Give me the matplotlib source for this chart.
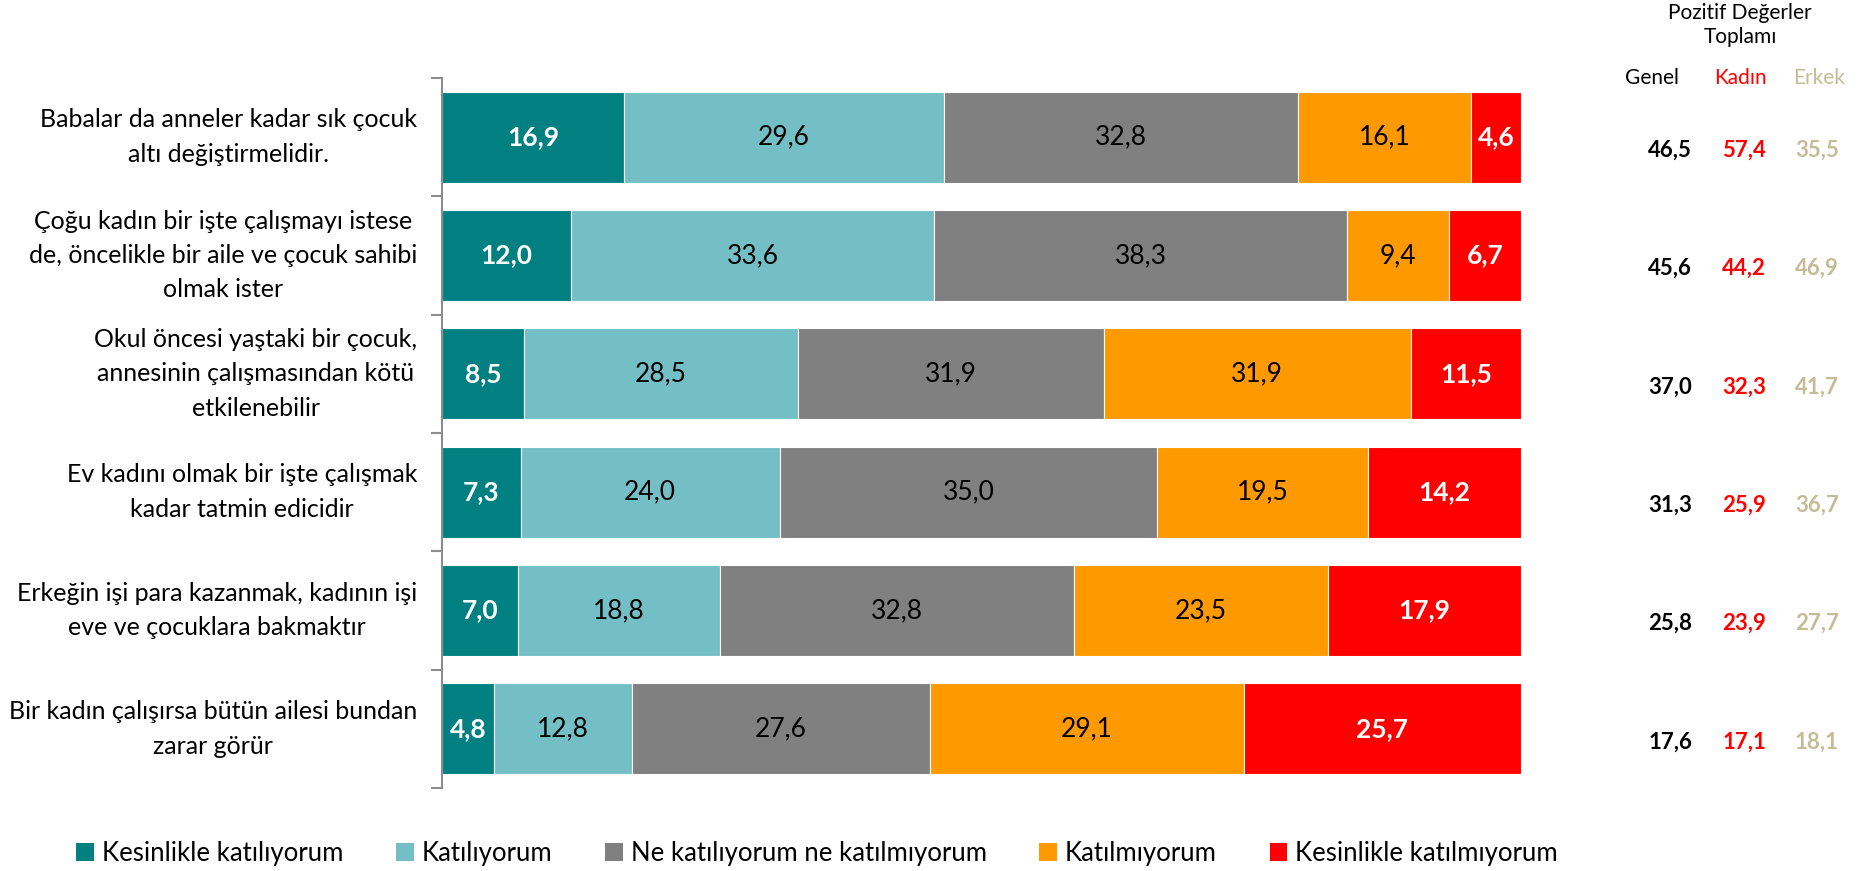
import matplotlib
matplotlib.use('Agg')
import matplotlib.pyplot as plt
import matplotlib.transforms as mtransforms
from matplotlib.patches import Patch

# data
statements = [
    'Babalar da anneler kadar sık çocuk\naltı değiştirmelidir.',
    'Çoğu kadın bir işte çalışmayı istese\nde, öncelikle bir aile ve çocuk sahibi\nolmak ister',
    'Okul öncesi yaştaki bir çocuk,\nannesinin çalışmasından kötü\netkilenebilir',
    'Ev kadını olmak bir işte çalışmak\nkadar tatmin edicidir',
    'Erkeğin işi para kazanmak, kadının işi\neve ve çocuklara bakmaktır',
    'Bir kadın çalışırsa bütün ailesi bundan\nzarar görür',
]
answers = ['Kesinlikle katılıyorum', 'Katılıyorum', 'Ne katılıyorum ne katılmıyorum',
           'Katılmıyorum', 'Kesinlikle katılmıyorum']
kesinlikle_katiliyorum = [16.9, 12.0, 8.5, 7.3, 7.0, 4.8]
katiliyorum = [29.6, 33.6, 28.5, 24.0, 18.8, 12.8]
ne_ne = [32.8, 38.3, 31.9, 35.0, 32.8, 27.6]
katilmiyorum = [16.1, 9.4, 31.9, 19.5, 23.5, 29.1]
kesinlikle_katilmiyorum = [4.6, 6.7, 11.5, 14.2, 17.9, 25.7]

pozitif_genel = [46.5, 45.6, 37.0, 31.3, 25.8, 17.6]
pozitif_kadin = [57.4, 44.2, 32.3, 25.9, 23.9, 17.1]
pozitif_erkek = [35.5, 46.9, 41.7, 36.7, 27.7, 18.1]

colors = ['#008080', '#74BFC6', '#808080', '#FF9900', '#FF0000']
label_colors = ['white', 'black', 'black', 'black', 'white']
label_weights = ['bold', 'normal', 'normal', 'normal', 'bold']

plt.rcParams['font.family'] = ['Lato', 'DejaVu Sans']

fig = plt.figure(figsize=(18.75, 8.71), dpi=100)
ax = fig.add_axes([442 / 1875, 1 - 788 / 871, 1079 / 1875, 710 / 871])

series = [kesinlikle_katiliyorum, katiliyorum, ne_ne, katilmiyorum, kesinlikle_katilmiyorum]
n = len(statements)
totals = [sum(s[i] for s in series) for i in range(n)]
ys = list(range(n))

# 100% stacked bars
left = [0.0] * n
for k, s in enumerate(series):
    widths = [s[i] / totals[i] * 100 for i in range(n)]
    ax.barh(ys, widths, left=left, height=0.77, color=colors[k],
            edgecolor='white', linewidth=0.8)
    for i in range(n):
        ax.text(left[i] + widths[i] / 2, ys[i], f'{s[i]:.1f}'.replace('.', ','),
                ha='center', va='center', fontsize=19, color=label_colors[k],
                fontweight=label_weights[k])
    left = [left[i] + widths[i] for i in range(n)]

ax.set_xlim(0, 100)
ax.set_ylim(n - 0.5, -0.5)
ax.xaxis.set_visible(False)
for sp in ['top', 'right', 'bottom']:
    ax.spines[sp].set_visible(False)
ax.spines['left'].set_color('#8C8C8C')
ax.spines['left'].set_linewidth(1.5)
ax.set_yticks([i - 0.5 for i in range(n + 1)])
ax.set_yticklabels([])
ax.tick_params(axis='y', length=8, width=1.5, color='#8C8C8C')

lab_tr = mtransforms.blended_transform_factory(ax.transAxes, ax.transData)
for i, txt in enumerate(statements):
    ax.text(-0.023, ys[i], txt, transform=lab_tr, ha='right', va='center',
            multialignment='center', fontsize=18, linespacing=1.6)

# positive totals on the right
fig.text(1740 / 1875, 1 - 25 / 871, 'Pozitif Değerler\nToplamı', ha='center', va='center',
         fontsize=15, linespacing=1.2)
fig.text(1652 / 1875, 1 - 78 / 871, 'Genel', ha='center', va='center', fontsize=15, color='black')
fig.text(1740 / 1875, 1 - 78 / 871, 'Kadın', ha='center', va='center', fontsize=15, color='#FF0000')
fig.text(1819 / 1875, 1 - 78 / 871, 'Erkek', ha='center', va='center', fontsize=15, color='#C4BC96')

tr = mtransforms.blended_transform_factory(fig.transFigure, ax.transData)
for i in range(n):
    y = ys[i] + 0.11
    ax.text(1670 / 1875, y, f'{pozitif_genel[i]:.1f}'.replace('.', ','), transform=tr,
            ha='center', va='center', fontsize=16, fontweight='bold', color='black')
    ax.text(1744 / 1875, y, f'{pozitif_kadin[i]:.1f}'.replace('.', ','), transform=tr,
            ha='center', va='center', fontsize=16, fontweight='bold', color='#FF0000')
    ax.text(1817 / 1875, y, f'{pozitif_erkek[i]:.1f}'.replace('.', ','), transform=tr,
            ha='center', va='center', fontsize=16, fontweight='bold', color='#C4BC96')

handles = [Patch(facecolor=c) for c in colors]
fig.legend(handles, answers, loc='center', bbox_to_anchor=(817 / 1875, 1 - 853 / 871),
           ncol=5, frameon=False, fontsize=18.5, handlelength=0.7, handleheight=0.7,
           handletextpad=0.3, columnspacing=2.05)

fig.savefig('out.png', dpi=100)
